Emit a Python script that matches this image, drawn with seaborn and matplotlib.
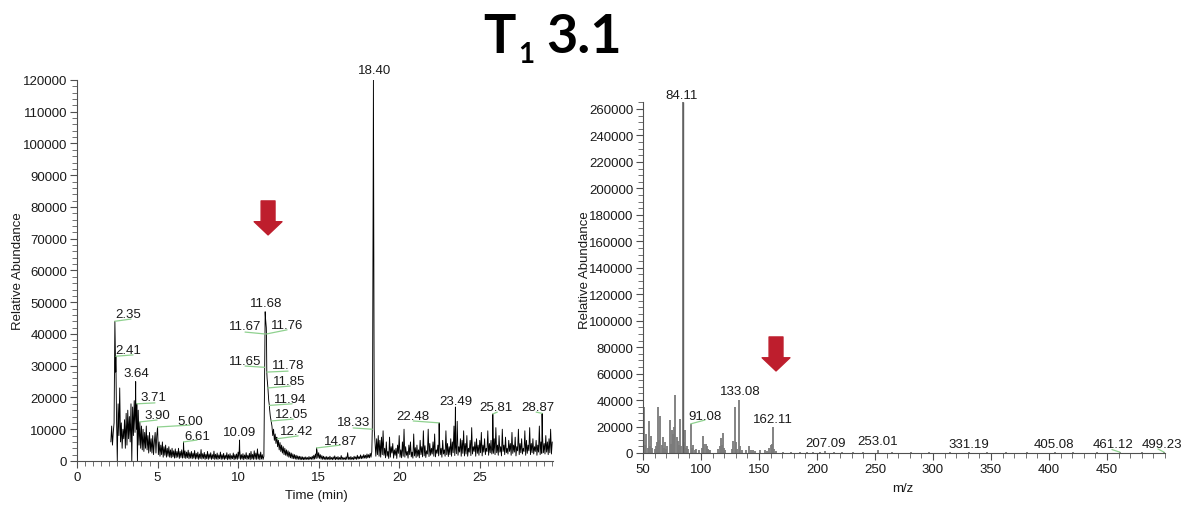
import numpy as np
import pandas as pd
import matplotlib
matplotlib.use("Agg")
import matplotlib.pyplot as plt
from matplotlib.ticker import MultipleLocator, FuncFormatter
import seaborn as sns

# ---------------- chromatogram (TIC), abundance in thousands ----------------
# sampled every 0.05 min starting at 2.10 min, one row = one minute
tic_start = 2.10
tic_step = 0.05
tic_k = [
    6, 11, 5, 9, 12, 44, 28, 14, 0, 18, 8, 23, 6, 12, 4, 10, 7, 13, 4, 15,            # 2.10
    5, 16, 7, 14, 6, 18, 0, 17, 8, 19, 9, 17, 10, 0, 16, 5, 12.3, 4, 11, 3.5,          # 3.10
    10, 3, 9, 4, 11, 3.5, 8, 2.5, 9, 3, 7, 2.5, 8, 2, 6, 9, 2.5, 8, 10.7, 2,           # 4.10
    6, 1.5, 5, 2, 6, 1.2, 4.5, 1.8, 5, 1.2, 4, 1.5, 4.5, 1.2, 3.5, 1, 4, 1.3, 3.2, 0.9,  # 5.10
    3.8, 1, 3, 1.2, 4, 0.8, 3, 1.1, 3.5, 0.9, 3.2, 1, 3.2, 0.8, 2.8, 1, 3.4, 0.7, 2.6, 0.9,  # 6.10
    3, 0.7, 2.5, 0.9, 3.3, 0.6, 2.4, 0.8, 2.8, 0.5, 2.2, 0.8, 3.6, 0.6, 2.3, 0.8, 2.7, 0.5, 2.1, 0.7,  # 7.10
    3, 0.5, 2.2, 0.8, 2.6, 0.5, 2, 0.7, 3.1, 0.5, 2.1, 0.6, 2.5, 0.5, 1.9, 0.7, 2.8, 0.5, 2, 0.6,  # 8.10
    2.4, 0.5, 1.8, 0.7, 2.6, 0.4, 2, 0.6, 2.3, 0.5, 1.7, 0.7, 2.5, 0.4, 2, 0.6, 2.2, 0.5, 2.8, 0.8,  # 9.10
    3.5, 0.5, 2, 0.6, 2.3, 0.4, 1.9, 0.7, 2.6, 0.5, 1.8, 0.6, 2.4, 0.4, 3, 0.6, 2.1, 0.5, 3.2, 0.6,  # 10.10
    2.5, 0.5, 3.8, 0.6, 2.2, 0.4, 2.8, 0.6, 2, 0.5, 1.5, 29.5, 45, 42, 26, 23, 19, 16.5, 14, 12.6,  # 11.10
    11, 8, 10, 6.5, 8.5, 5.5, 7.5, 4.5, 6.5, 3.5, 5.8, 3, 5, 2.5, 4.5, 2, 4, 1.8, 3.5, 1.5,  # 12.10
    3.2, 1.2, 2.8, 1, 2.5, 0.8, 2.2, 0.7, 2, 0.6, 1.8, 0.5, 1.6, 0.5, 1.5, 0.4, 1.4, 0.4, 1.3, 0.4,  # 13.10
    1.2, 0.4, 1.3, 0.5, 1.1, 0.4, 1.4, 0.5, 1.2, 0.5, 1.5, 0.5, 1.8, 0.6, 2.2, 0.8, 3.2, 0.9, 2.6, 0.8,  # 14.10
    2, 0.6, 1.7, 0.5, 1.5, 0.5, 1.3, 0.4, 1.4, 0.5, 1.2, 0.4, 1.5, 0.5, 1.1, 0.4, 1.3, 0.5, 1.6, 0.4,  # 15.10
    1.2, 0.5, 1.4, 0.4, 1.1, 0.5, 1.7, 0.4, 1.2, 0.5, 1, 0.4, 1.3, 0.5, 2.6, 0.5, 1.2, 0.4, 1.4, 0.5,  # 16.10
    1.1, 0.4, 1.5, 0.6, 1.3, 0.5, 1.8, 0.6, 1.4, 0.7, 1.9, 0.7, 1.6, 0.8, 2, 0.9, 1.8, 0.8, 2.2, 1,  # 17.10
    2, 1, 2.4, 1.2, 3, 27, 120, 10, 6, 1.5, 7, 2, 8, 1.5, 6.5, 1.2, 7.5, 2, 9.5, 1.8,  # 18.10
    4, 1, 6, 1.5, 3, 0.8, 7.5, 1.2, 4.5, 2.5, 5.5, 0.9, 3.5, 1.8, 4, 0.8, 5, 2.4, 8, 1.2,  # 19.10
    3.5, 1, 6, 1.5, 10, 1.2, 4.5, 1.8, 3, 0.9, 5, 2, 6, 1.3, 2.8, 0.9, 8.5, 1.6, 4.2, 1.1,  # 20.10
    5, 1.5, 3.5, 1, 6.5, 2, 4.5, 1.3, 9.5, 1.6, 4.8, 1.1, 3.2, 2.2, 10, 1.4, 5.5, 1.8, 4, 2.2,  # 21.10
    6, 1.5, 8.5, 1.3, 3.5, 2.4, 5, 1.6, 7, 2, 4, 1.2, 6.5, 2.2, 3.5, 1.5, 9.5, 2, 5.5, 1.4,  # 22.10
    4.5, 2, 7, 1.5, 6, 2.6, 11, 1.7, 5, 2.3, 12.5, 1.8, 4.5, 2.8, 7, 1.5, 6.5, 2.4, 9.5, 1.6,  # 23.10
    5.5, 2.2, 8, 1.5, 4, 2.8, 6.5, 1.7, 10.5, 2.2, 4.5, 3, 6, 1.5, 7, 2.4, 5, 1.8, 6.5, 2.6,  # 24.10
    9, 1.6, 5, 2.8, 7, 2, 4, 3, 9.5, 1.8, 5.5, 2.6, 6.5, 2.2, 4, 2.4, 7, 2, 10.5, 2.6,  # 25.10
    5, 1.8, 8, 2.8, 4.5, 1.6, 10, 3, 5, 2, 7.5, 2.6, 4, 2.2, 6.5, 3, 5.5, 1.8, 9, 2.4,  # 26.10
    5, 2.8, 7.5, 1.6, 4.5, 3.2, 10, 2, 5.5, 2.6, 7, 2.2, 4, 3, 9.5, 1.8, 6.5, 2.4, 5, 3.2,  # 27.10
    10.5, 2, 5.5, 2.6, 7, 2.2, 4.5, 3, 6.5, 1.8, 5, 2.8, 11, 2, 6, 2.4, 7.5, 2.6, 5.5, 2.2,  # 28.10
    8, 2.8, 6, 2, 7, 2.6, 10, 2.2, 6,  # 29.10
]

# apex points that fall between the grid samples
apex_time = [2.41, 3.64, 3.71, 6.61, 10.09, 11.67, 11.68, 11.76, 11.78, 11.94,
             12.42, 14.87, 18.33, 18.38, 22.48, 23.49, 25.81, 28.87]
apex_k = [33, 25, 18, 6.0, 6.6, 40, 47, 40, 28, 17.5,
          7.0, 4.1, 10, 83, 12.0, 17, 14.8, 15]

# peak labels: text, apex (k), text centre (min, k), leader end (min, k)
tic_label = ["2.35", "2.41", "3.64", "3.71", "3.90", "5.00", "6.61", "10.09",
             "11.68", "11.67", "11.76", "11.65", "11.78", "11.85", "11.94", "12.05",
             "12.42", "14.87", "18.33", "18.40", "22.48", "23.49", "25.81", "28.87"]
tic_label_k = [44.0, 33.0, 25.0, 18.0, 12.3, 10.7, 6.0, 6.6,
               47.0, 40.0, 40.0, 29.5, 28.0, 23.0, 17.5, 12.6,
               7.0, 4.1, 10.0, 120.0, 12.0, 17.0, 14.8, 15.0]
tic_text_x = [3.17, 3.17, 3.66, 4.72, 4.97, 7.02, 7.45, 10.12,
              11.74, 10.43, 13.04, 10.43, 13.10, 13.17, 13.23, 13.35,
              13.66, 16.34, 17.14, 18.45, 20.87, 23.54, 26.02, 28.63]
tic_text_k = [46.3, 35.0, 27.7, 20.2, 14.5, 12.6, 7.9, 9.1,
              49.8, 42.5, 42.8, 31.5, 30.2, 25.2, 19.5, 14.8,
              9.4, 6.3, 12.3, 123.1, 14.2, 18.9, 17.0, 17.0]
tic_lead_x = [3.35, 3.48, None, 4.84, 4.97, 7.02, 7.45, None,
              None, 10.43, 13.04, 10.43, 13.10, 13.23, 13.35, 13.42,
              13.73, 16.34, 17.14, None, 20.87, None, 26.09, 28.50]
tic_lead_k = [44.7, 33.4, None, 18.3, 12.9, 11.3, 6.6, None,
              None, 40.6, 41.3, 29.9, 28.3, 23.6, 18.0, 13.2,
              7.9, 5.0, 10.4, None, 12.6, None, 15.4, 15.4]

# ---------------- mass spectrum, abundance in thousands ----------------
ms_mz = [50, 51, 52, 53, 54, 55, 56, 57, 58, 60, 61, 62, 63, 64, 65, 66, 67, 68, 69, 70,
         71, 73, 74, 75, 76, 77, 78, 79, 80, 81, 82, 83, 84.11, 85, 86, 87, 88, 89, 91.08, 92,
         93, 95, 96, 98, 101, 102, 103, 104, 105, 106, 107, 108, 115, 116, 117, 118, 119, 120,
         121, 127, 128, 129, 130, 131, 133.08, 134, 135, 139, 141, 143, 145, 147, 151, 155,
         157, 159, 160, 161, 162.11, 163, 165, 171, 178, 185, 191, 197, 203, 207.09, 215,
         222, 231, 240, 253.01, 265, 281, 297, 315, 331.19, 347, 363, 381, 405.08, 421, 441,
         461.12, 480, 499.23]
ms_k = [88, 35, 6, 14, 4, 24, 5, 13, 4, 3, 5, 8, 35, 10, 28, 6, 12, 4, 8, 3,
        5, 25, 7, 17, 14, 20, 44, 12, 9, 6, 26, 5, 265, 8, 17, 4, 5, 3, 22, 4,
        6, 2, 3, 2, 4, 13, 7, 7, 5, 3, 2, 2, 3, 5, 11, 6, 15, 4,
        2, 3, 9, 35, 8, 3, 40, 5, 2, 2, 5, 2, 2, 1.5, 2, 2,
        1.5, 4, 6, 7, 19.5, 3, 1.5, 1, 0.8, 1, 0.7, 0.8, 0.8, 1.5, 0.7,
        0.6, 0.7, 0.6, 2, 0.6, 0.5, 0.6, 0.5, 0.7, 0.5, 0.5, 0.5, 0.7, 0.5, 0.5,
        0.6, 0.5, 0.6]

ms_label = ["84.11", "91.08", "133.08", "162.11", "207.09", "253.01", "331.19",
            "405.08", "461.12", "499.23"]
ms_label_k = [265, 22, 40, 19.5, 1.5, 2.0, 0.7, 0.7, 0.6, 0.6]
ms_text_x = [83.6, 103.4, 133.6, 162.1, 207.8, 252.6, 331.0, 404.3, 455.2, 497.4]
ms_text_k = [270.6, 28.0, 46.9, 25.7, 7.6, 9.1, 6.8, 6.8, 6.8, 6.8]
ms_lead_x = [None, 103.4, None, None, None, None, None, None, 454.3, 494.0]
ms_lead_k = [None, 24.9, None, None, None, None, None, None, 2.6, 3.0]

# red arrows (x, tail, tip)
tic_arrow = (11.86, 81.9, 71.2)
ms_arrow = (164.7, 87.7, 62.0)

# ---------------- style ----------------
sns.set_style("ticks")
plt.rcParams['font.family'] = ['Liberation Sans', 'DejaVu Sans']
plt.rcParams['axes.linewidth'] = 0.8

text_col = '#1a1a1a'
axis_col = '#505050'
lead_col = '#8fd18f'
red = '#BE1E2D'
fs = 9.5

fig = plt.figure(figsize=(11.85, 5.06), dpi=100)
ax1 = fig.add_axes([0.0650, 0.0870, 0.4017, 0.7530])
ax2 = fig.add_axes([0.5426, 0.1028, 0.4405, 0.6929])

# chromatogram trace
grid_t = np.round(tic_start + tic_step * np.arange(len(tic_k)), 2)
tic = pd.DataFrame({'t': np.concatenate([grid_t, apex_time]),
                    'k': np.concatenate([tic_k, apex_k])}).sort_values('t')
tic['abund'] = tic['k'] * 1000
sns.lineplot(data=tic, x='t', y='abund', ax=ax1, color='black', lw=0.65,
             estimator=None, sort=False)

# mass spectrum sticks
ms = pd.DataFrame({'mz': ms_mz, 'abund': np.array(ms_k) * 1000})
ax2.vlines(ms['mz'], 0, ms['abund'], color='#7a7a7a', lw=1.3)
ax2.vlines([84.11], 0, [265000], color='#606060', lw=1.0)


def add_labels(ax, names, peak_x, peak_k, tx, tk, lx, lk):
    for name, px, pk, x, k, ex, ek in zip(names, peak_x, peak_k, tx, tk, lx, lk):
        if ex is not None:
            ax.plot([px, ex], [pk * 1000, ek * 1000], color=lead_col, lw=0.9,
                    clip_on=False, zorder=3)
        ax.text(x, k * 1000, name, ha='center', va='center', fontsize=fs,
                color=text_col, clip_on=False, zorder=4)


add_labels(ax1, tic_label, [float(s) for s in tic_label], tic_label_k,
           tic_text_x, tic_text_k, tic_lead_x, tic_lead_k)
add_labels(ax2, ms_label, [float(s) for s in ms_label], ms_label_k,
           ms_text_x, ms_text_k, ms_lead_x, ms_lead_k)

arrow_props = dict(arrowstyle='simple,head_length=0.95,head_width=2.0,tail_width=1.0',
                   color=red, shrinkA=0, shrinkB=0, mutation_scale=10)
for ax, (ax_x, y0, y1) in [(ax1, tic_arrow), (ax2, ms_arrow)]:
    ax.annotate('', xy=(ax_x, y1 * 1000), xytext=(ax_x, y0 * 1000),
                arrowprops=arrow_props, annotation_clip=False)

# axes
ax1.set_xlim(0, 29.55)
ax1.set_ylim(0, 120000)
ax1.xaxis.set_major_locator(MultipleLocator(5))
ax1.xaxis.set_minor_locator(MultipleLocator(0.5))
ax1.yaxis.set_major_locator(MultipleLocator(10000))
ax1.yaxis.set_minor_locator(MultipleLocator(2000))

ax2.set_xlim(50, 500)
ax2.set_ylim(0, 265000)
ax2.set_xticks([50, 100, 150, 200, 250, 300, 350, 400, 450])
ax2.xaxis.set_minor_locator(MultipleLocator(10))
ax2.yaxis.set_major_locator(MultipleLocator(20000))
ax2.yaxis.set_minor_locator(MultipleLocator(5000))

fmt = FuncFormatter(lambda v, p: '%d' % v)
for ax in (ax1, ax2):
    ax.yaxis.set_major_formatter(fmt)
    sns.despine(ax=ax)
    for s in ('left', 'bottom'):
        ax.spines[s].set_color(axis_col)
    ax.tick_params(which='major', direction='out', length=5, width=0.8,
                   color=axis_col, labelsize=fs, labelcolor=text_col, pad=2)
    ax.tick_params(which='minor', direction='out', length=3.5, width=0.7,
                   color='#707070')

ax1.set_xlabel('Time (min)', fontsize=fs, color=text_col)
ax1.set_ylabel('Relative Abundance', fontsize=fs, color=text_col)
ax1.xaxis.set_label_coords(0.502, -0.0735)
ax1.yaxis.set_label_coords(-0.111, 0.5)

ax2.set_xlabel('m/z', fontsize=fs, color=text_col)
ax2.set_ylabel('Relative Abundance', fontsize=fs, color=text_col)
ax2.xaxis.set_label_coords(0.498, -0.083)
ax2.yaxis.set_label_coords(-0.0996, 0.525)

# title  T1 3.1 with subscript
W, H = 1185, 506
title_font = dict(family=['Lato', 'DejaVu Sans'], weight='bold', color='black')
fig.text(483 / W, 1 - 53 / H, 'T', fontsize=39, ha='left', va='baseline', **title_font)
fig.text(518 / W, 1 - 63 / H, '1', fontsize=20, ha='left', va='baseline', **title_font)
fig.text(546 / W, 1 - 53 / H, '3.1', fontsize=39, ha='left', va='baseline', **title_font)

fig.savefig('out.png', dpi=100)
